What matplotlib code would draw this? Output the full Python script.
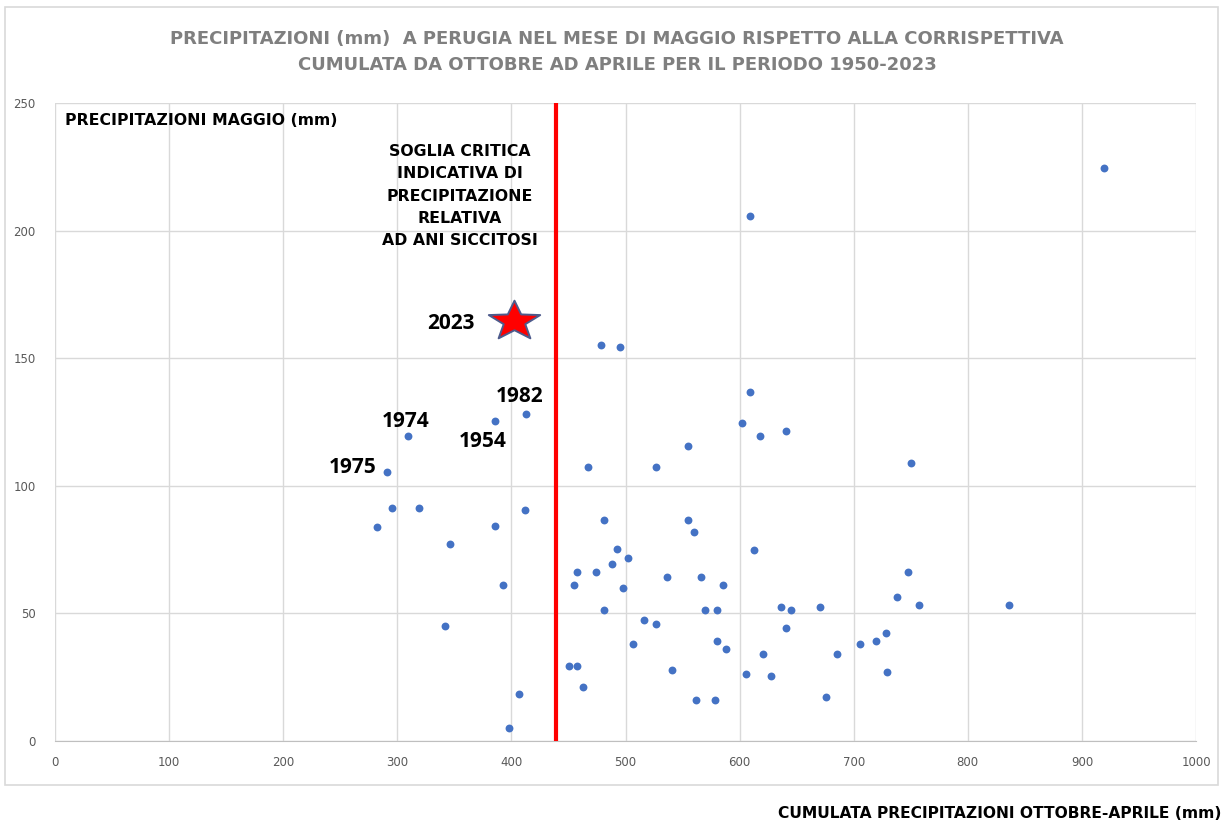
import matplotlib
matplotlib.use("Agg")
import matplotlib.pyplot as plt
from matplotlib.patches import Rectangle
from matplotlib.path import Path

# cumulata ottobre-aprile (mm) e maggio (mm)
oct_apr = [413, 385.5, 309.7, 291, 295.7, 319.3, 412.3, 282.5, 385.6, 346.2,
           392.9, 342.1, 406.4, 398.2,
           919.5, 609.5, 478.5, 495.5, 609.5, 602.4, 618, 640.6, 554.5, 750.6,
           467.4, 526.5, 481.4, 554.5, 560, 492.7, 612.2, 502.5, 488.2, 457.5,
           474.2, 536.1, 565.9, 454.5, 498.1, 585.4, 747.6, 737.6, 757.2, 836.1,
           481.4, 570, 580.2, 636.3, 644.8, 670.2, 516.5, 526.5, 640.4, 506.6,
           579.9, 588.4, 620.5, 685.4, 705.3, 719.3, 728.3, 729.2, 450.4, 457.8,
           462.8, 540.8, 605.3, 627.5, 561.5, 578.4, 675.5]
maggio = [128.1, 125.4, 119.4, 105.5, 91.4, 91.4, 90.4, 83.8, 84.1, 77.2,
          61.3, 45.0, 18.5, 5.2,
          224.5, 205.6, 155.2, 154.4, 136.6, 124.6, 119.5, 121.4, 115.6, 109.0,
          107.3, 107.3, 86.5, 86.5, 82.0, 75.2, 74.9, 71.9, 69.5, 66.4,
          66.4, 64.4, 64.4, 61.3, 60.0, 61.3, 66.4, 56.3, 53.1, 53.3,
          51.3, 51.3, 51.3, 52.4, 51.3, 52.4, 47.3, 46.0, 44.3, 38.1,
          39.3, 36.1, 34.2, 34.2, 38.1, 39.3, 42.4, 27.2, 29.2, 29.2,
          21.0, 27.9, 26.1, 25.4, 16.0, 16.0, 17.2]

# anni etichettati (indici nelle liste sopra)
label_years = ["1982", "1954", "1974", "1975"]
label_idx = [0, 1, 2, 3]
label_offsets = [(-7, 18), (-12, -21), (-3, 15), (-34, 4)]  # pixel

year_2023 = "2023"
x_2023 = 402.6
y_2023 = 164.7

soglia = 439

xticks = [0, 100, 200, 300, 400, 500, 600, 700, 800, 900, 1000]
yticks = [0, 50, 100, 150, 200, 250]

fnt = ["DejaVu Sans"]
num_fnt = ["Open Sans", "DejaVu Sans"]

# stella schiacciata come quella di excel
_st = Path.unit_regular_star(5, 0.42)
star = Path(_st.vertices * [1.0, 0.77], _st.codes)

fig = plt.figure(figsize=(12.24, 8.26), dpi=100)
ax = fig.add_axes([55/1224, 1-741/826, (1196-55)/1224, (741-103)/826])

# bordo grafico
fig.patches.append(Rectangle((5/1224, 1-785/826), 1213/1224, 778/826,
                             transform=fig.transFigure, fill=False,
                             edgecolor="#d9d9d9", lw=1.2))

ax.set_xlim(0, 1000)
ax.set_ylim(0, 250)
ax.set_xticks(xticks)
ax.set_yticks(yticks)
ax.grid(True, color="#d9d9d9", lw=1.0)
ax.set_axisbelow(True)
for s in ["top", "right", "left"]:
    ax.spines[s].set_visible(False)
ax.spines["bottom"].set_color("#bfbfbf")
ax.tick_params(length=0, colors="#595959", labelsize=8.5)
ax.tick_params(axis="x", pad=11)
ax.tick_params(axis="y", pad=14)

ax.scatter(oct_apr, maggio, s=32, color="#4472c4", zorder=3, linewidths=0)

# soglia critica
ax.axvline(soglia, color="#ff0000", lw=3.0, zorder=4)

ax.plot([x_2023], [y_2023], marker=star, markersize=37, color="#ff0000",
        markeredgecolor="#4d5b8c", markeredgewidth=1.4, zorder=5)
ax.annotate(year_2023, (x_2023, y_2023), xytext=(-64, -3),
            textcoords="offset pixels", ha="center", va="center",
            fontsize=15, fontweight="bold", family=num_fnt)

for yr, i, off in zip(label_years, label_idx, label_offsets):
    ax.annotate(yr, (oct_apr[i], maggio[i]), xytext=off,
                textcoords="offset pixels", ha="center", va="center",
                fontsize=15, fontweight="bold", family=num_fnt)

ax.text(10/1141, 1-17/638, "PRECIPITAZIONI MAGGIO (mm)", transform=ax.transAxes,
        ha="left", va="center", fontsize=11.3, fontweight="bold", family=fnt)

ax.text((460-55)/1141, 1-(196-103)/638,
        "SOGLIA CRITICA\nINDICATIVA DI\nPRECIPITAZIONE\nRELATIVA\nAD ANI SICCITOSI",
        transform=ax.transAxes, ha="center", va="center", fontsize=11.3,
        fontweight="bold", family=fnt, linespacing=1.62)

fig.text(617/1224, 1-52/826,
         "PRECIPITAZIONI (mm)  A PERUGIA NEL MESE DI MAGGIO RISPETTO ALLA CORRISPETTIVA\n"
         "CUMULATA DA OTTOBRE AD APRILE PER IL PERIODO 1950-2023",
         ha="center", va="center", fontsize=13, fontweight="bold", color="#7f7f7f",
         family=fnt, linespacing=1.6)

fig.text(1222/1224, 1-813/826, "CUMULATA PRECIPITAZIONI OTTOBRE-APRILE (mm)",
         ha="right", va="center", fontsize=11.2, fontweight="bold", family=fnt)

fig.savefig("out.png", dpi=100)
